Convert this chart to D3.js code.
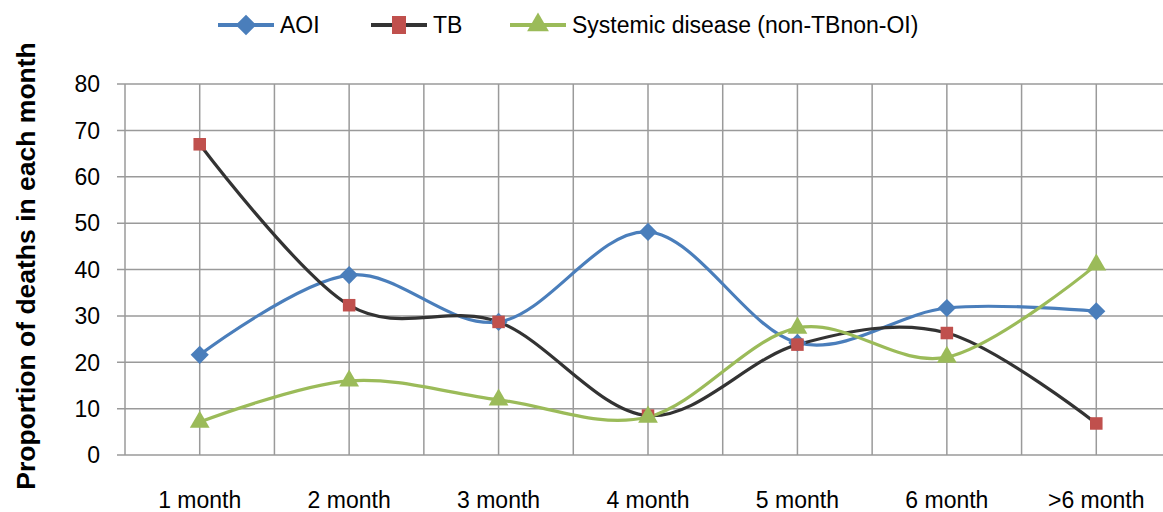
<!DOCTYPE html>
<html>
<head>
<meta charset="utf-8">
<script src="https://cdn.jsdelivr.net/npm/d3@7"></script>
<style>
  body { margin: 0; background: #fff; }
  text { font-family: "Liberation Sans", Arial, sans-serif; fill: #000; }
</style>
</head>
<body>
<div id="chart"></div>
<script>
var width = 1163;
var height = 512;

// data
var months = ["1 month", "2 month", "3 month", "4 month", "5 month", "6 month", ">6 month"];
var aoi = [21.6, 38.8, 28.7, 48.1, 24.2, 31.7, 31.0];
var tb = [67.0, 32.3, 28.7, 8.5, 23.8, 26.3, 6.8];
var systemic = [7.1, 16.0, 11.9, 8.2, 27.4, 21.1, 41.0];
var yTicks = [0, 10, 20, 30, 40, 50, 60, 70, 80];

var series = [
    { name: "AOI", values: aoi, line: "#4a7ebb", fill: "#4a7ebb", symbol: d3.symbolDiamond2, size: 210 },
    { name: "TB", values: tb, line: "#333333", fill: "#c0504d", symbol: d3.symbolSquare2, size: 200 },
    { name: "Systemic disease (non-TBnon-OI)", values: systemic, line: "#9bbb59", fill: "#9bbb59", symbol: d3.symbolTriangle2, size: 280 }
];

var margin = { left: 125, top: 84, bottom: 455 };
var plotRight = 1171;

var x = d3.scaleBand().domain(months).range([margin.left, plotRight]);
var y = d3.scaleLinear().domain([0, 80]).range([margin.bottom, margin.top]);

var svg = d3.select("#chart")
    .append("svg")
    .attr("width", width)
    .attr("height", height);

var grid = svg.append("g").attr("id", "grid");

// horizontal gridlines (with small tick stub left of the axis)
grid.selectAll(".hline")
    .data(yTicks)
    .enter()
        .append("line")
        .attr("x1", margin.left - 8)
        .attr("x2", plotRight)
        .attr("y1", function(d){ return y(d); })
        .attr("y2", function(d){ return y(d); })
        .attr("stroke", "#9a9a9a")
        .attr("stroke-width", 1.5);

// vertical gridlines at category edges and centres
var vlines = [];
months.forEach(function(m){
    vlines.push(x(m));
    vlines.push(x(m) + x.bandwidth() / 2);
});
vlines.push(plotRight);
grid.selectAll(".vline")
    .data(vlines)
    .enter()
        .append("line")
        .attr("x1", function(d){ return d; })
        .attr("x2", function(d){ return d; })
        .attr("y1", margin.top)
        .attr("y2", margin.bottom)
        .attr("stroke", "#9a9a9a")
        .attr("stroke-width", 1.5);

// y tick labels
svg.selectAll(".ylab")
    .data(yTicks)
    .enter()
        .append("text")
        .attr("x", 100)
        .attr("y", function(d){ return y(d); })
        .attr("dy", "0.36em")
        .attr("text-anchor", "end")
        .attr("font-size", "23px")
        .text(function(d){ return d; });

// x labels
svg.selectAll(".xlab")
    .data(months)
    .enter()
        .append("text")
        .attr("x", function(d){ return x(d) + x.bandwidth() / 2; })
        .attr("y", 508)
        .attr("text-anchor", "middle")
        .attr("font-size", "23px")
        .text(function(d){ return d; });

// y axis title
svg.append("text")
    .attr("transform", "translate(35,266) rotate(-90)")
    .attr("text-anchor", "middle")
    .attr("font-size", "26.5px")
    .attr("font-weight", "bold")
    .text("Proportion of deaths in each month");

var line = d3.line()
    .x(function(d, i){ return x(months[i]) + x.bandwidth() / 2; })
    .y(function(d){ return y(d); })
    .curve(d3.curveCatmullRom.alpha(0));

// lines first, then markers
series.forEach(function(s){
    svg.append("path")
        .datum(s.values)
        .attr("d", line)
        .attr("fill", "none")
        .attr("stroke", s.line)
        .attr("stroke-width", 3.2);
});
series.forEach(function(s){
    svg.append("g").selectAll("path")
        .data(s.values)
        .enter()
            .append("path")
            .attr("d", d3.symbol().type(s.symbol).size(s.size))
            .attr("transform", function(d, i){
                return "translate(" + (x(months[i]) + x.bandwidth() / 2) + "," + y(d) + ")";
            })
            .attr("fill", s.fill);
});

// legend
var legendX = [218, 371, 510];
var legend = svg.append("g").attr("id", "legend");
series.forEach(function(s, i){
    var g = legend.append("g").attr("transform", "translate(" + legendX[i] + ",25)");
    g.append("line")
        .attr("x1", 0).attr("x2", 56)
        .attr("stroke", s.line)
        .attr("stroke-width", 4);
    if (s.name == "TB") {
        g.append("rect")
            .attr("x", 21).attr("y", -9)
            .attr("width", 14).attr("height", 18)
            .attr("fill", s.fill);
    } else {
        g.append("path")
            .attr("d", d3.symbol().type(s.symbol).size(s.size + 60))
            .attr("transform", "translate(28,0)")
            .attr("fill", s.fill);
    }
    g.append("text")
        .attr("x", 62)
        .attr("dy", "0.36em")
        .attr("font-size", "23px")
        .text(s.name);
});
</script>
</body>
</html>
